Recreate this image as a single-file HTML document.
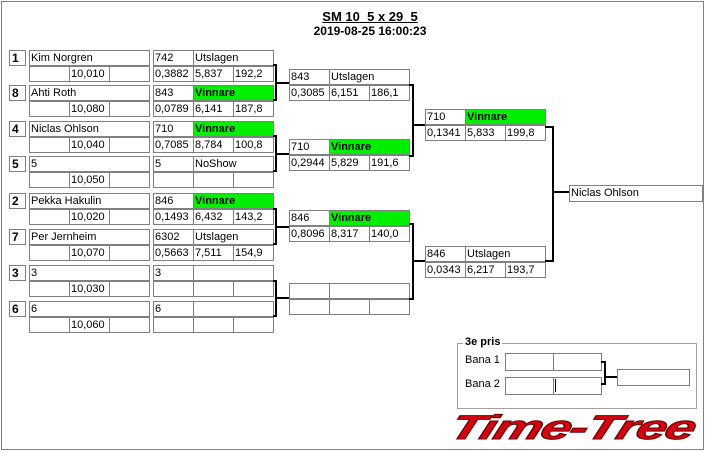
<!DOCTYPE html>
<html><head><meta charset="utf-8"><style>
body{margin:0;width:706px;height:452px;background:#fff;position:relative;overflow:hidden;font-family:"Liberation Sans",sans-serif}
.c{position:absolute;border:1px solid #808080;box-sizing:border-box;height:16px;font-size:11px;line-height:14px;padding-left:1px;white-space:nowrap;overflow:hidden;color:#000}
.s{font-weight:bold;font-size:12px;padding-left:2px}
.g{background:#00ee00;font-weight:bold}
.l{position:absolute;background:#000}
</style></head><body>
<div style="position:absolute;left:1px;top:1px;width:703px;height:449px;border:1px solid #808080;box-sizing:border-box"></div>
<div style="position:absolute;left:0;width:740px;top:10px;text-align:center;font-weight:bold;font-size:13px;line-height:14px;"><u>SM 10_5 x 29_5</u></div>
<div style="position:absolute;left:0;width:740px;top:24px;text-align:center;font-weight:bold;font-size:12px;line-height:14px;">2019-08-25 16:00:23</div>

<div class="c s" style="left:9px;top:50px;width:17px">1</div>
<div class="c" style="left:29px;top:50px;width:121px">Kim Norgren</div>
<div class="c" style="left:29px;top:66px;width:41px"></div><div class="c" style="left:69px;top:66px;width:41px">10,010</div><div class="c" style="left:109px;top:66px;width:41px"></div>
<div class="c" style="left:153px;top:50px;width:41px">742</div><div class="c" style="left:193px;top:50px;width:81px">Utslagen</div>
<div class="c" style="left:153px;top:66px;width:41px">0,3882</div><div class="c" style="left:193px;top:66px;width:41px">5,837</div><div class="c" style="left:233px;top:66px;width:41px">192,2</div>

<div class="c s" style="left:9px;top:85px;width:17px">8</div>
<div class="c" style="left:29px;top:85px;width:121px">Ahti Roth</div>
<div class="c" style="left:29px;top:101px;width:41px"></div><div class="c" style="left:69px;top:101px;width:41px">10,080</div><div class="c" style="left:109px;top:101px;width:41px"></div>
<div class="c" style="left:153px;top:85px;width:41px">843</div><div class="c g" style="left:193px;top:85px;width:81px">Vinnare</div>
<div class="c" style="left:153px;top:101px;width:41px">0,0789</div><div class="c" style="left:193px;top:101px;width:41px">6,141</div><div class="c" style="left:233px;top:101px;width:41px">187,8</div>

<div class="c s" style="left:9px;top:121px;width:17px">4</div>
<div class="c" style="left:29px;top:121px;width:121px">Niclas Ohlson</div>
<div class="c" style="left:29px;top:137px;width:41px"></div><div class="c" style="left:69px;top:137px;width:41px">10,040</div><div class="c" style="left:109px;top:137px;width:41px"></div>
<div class="c" style="left:153px;top:121px;width:41px">710</div><div class="c g" style="left:193px;top:121px;width:81px">Vinnare</div>
<div class="c" style="left:153px;top:137px;width:41px">0,7085</div><div class="c" style="left:193px;top:137px;width:41px">8,784</div><div class="c" style="left:233px;top:137px;width:41px">100,8</div>

<div class="c s" style="left:9px;top:156px;width:17px">5</div>
<div class="c" style="left:29px;top:156px;width:121px">5</div>
<div class="c" style="left:29px;top:172px;width:41px"></div><div class="c" style="left:69px;top:172px;width:41px">10,050</div><div class="c" style="left:109px;top:172px;width:41px"></div>
<div class="c" style="left:153px;top:156px;width:41px">5</div><div class="c" style="left:193px;top:156px;width:81px">NoShow</div>
<div class="c" style="left:153px;top:172px;width:41px"></div><div class="c" style="left:193px;top:172px;width:41px"></div><div class="c" style="left:233px;top:172px;width:41px"></div>

<div class="c s" style="left:9px;top:193px;width:17px">2</div>
<div class="c" style="left:29px;top:193px;width:121px">Pekka Hakulin</div>
<div class="c" style="left:29px;top:209px;width:41px"></div><div class="c" style="left:69px;top:209px;width:41px">10,020</div><div class="c" style="left:109px;top:209px;width:41px"></div>
<div class="c" style="left:153px;top:193px;width:41px">846</div><div class="c g" style="left:193px;top:193px;width:81px">Vinnare</div>
<div class="c" style="left:153px;top:209px;width:41px">0,1493</div><div class="c" style="left:193px;top:209px;width:41px">6,432</div><div class="c" style="left:233px;top:209px;width:41px">143,2</div>

<div class="c s" style="left:9px;top:229px;width:17px">7</div>
<div class="c" style="left:29px;top:229px;width:121px">Per Jernheim</div>
<div class="c" style="left:29px;top:245px;width:41px"></div><div class="c" style="left:69px;top:245px;width:41px">10,070</div><div class="c" style="left:109px;top:245px;width:41px"></div>
<div class="c" style="left:153px;top:229px;width:41px">6302</div><div class="c" style="left:193px;top:229px;width:81px">Utslagen</div>
<div class="c" style="left:153px;top:245px;width:41px">0,5663</div><div class="c" style="left:193px;top:245px;width:41px">7,511</div><div class="c" style="left:233px;top:245px;width:41px">154,9</div>

<div class="c s" style="left:9px;top:265px;width:17px">3</div>
<div class="c" style="left:29px;top:265px;width:121px">3</div>
<div class="c" style="left:29px;top:281px;width:41px"></div><div class="c" style="left:69px;top:281px;width:41px">10,030</div><div class="c" style="left:109px;top:281px;width:41px"></div>
<div class="c" style="left:153px;top:265px;width:41px">3</div><div class="c" style="left:193px;top:265px;width:81px"></div>
<div class="c" style="left:153px;top:281px;width:41px"></div><div class="c" style="left:193px;top:281px;width:41px"></div><div class="c" style="left:233px;top:281px;width:41px"></div>

<div class="c s" style="left:9px;top:301px;width:17px">6</div>
<div class="c" style="left:29px;top:301px;width:121px">6</div>
<div class="c" style="left:29px;top:317px;width:41px"></div><div class="c" style="left:69px;top:317px;width:41px">10,060</div><div class="c" style="left:109px;top:317px;width:41px"></div>
<div class="c" style="left:153px;top:301px;width:41px">6</div><div class="c" style="left:193px;top:301px;width:81px"></div>
<div class="c" style="left:153px;top:317px;width:41px"></div><div class="c" style="left:193px;top:317px;width:41px"></div><div class="c" style="left:233px;top:317px;width:41px"></div>

<div class="l" style="left:273px;top:64px;width:4px;height:2px"></div><div class="l" style="left:273px;top:99px;width:4px;height:2px"></div><div class="l" style="left:275px;top:64px;width:2px;height:37px"></div><div class="l" style="left:275px;top:82px;width:14px;height:2px"></div>
<div class="l" style="left:273px;top:135px;width:4px;height:2px"></div><div class="l" style="left:273px;top:170px;width:4px;height:2px"></div><div class="l" style="left:275px;top:135px;width:2px;height:37px"></div><div class="l" style="left:275px;top:153px;width:14px;height:2px"></div>
<div class="l" style="left:273px;top:208px;width:4px;height:2px"></div><div class="l" style="left:273px;top:243px;width:4px;height:2px"></div><div class="l" style="left:275px;top:208px;width:2px;height:37px"></div><div class="l" style="left:275px;top:226px;width:14px;height:2px"></div>
<div class="l" style="left:273px;top:280px;width:4px;height:2px"></div><div class="l" style="left:273px;top:315px;width:4px;height:2px"></div><div class="l" style="left:275px;top:280px;width:2px;height:37px"></div><div class="l" style="left:275px;top:297px;width:14px;height:2px"></div>

<div class="c" style="left:289px;top:69px;width:41px">843</div><div class="c" style="left:329px;top:69px;width:81px">Utslagen</div>
<div class="c" style="left:289px;top:85px;width:41px">0,3085</div><div class="c" style="left:329px;top:85px;width:41px">6,151</div><div class="c" style="left:369px;top:85px;width:41px">186,1</div>

<div class="c" style="left:289px;top:139px;width:41px">710</div><div class="c g" style="left:329px;top:139px;width:81px">Vinnare</div>
<div class="c" style="left:289px;top:155px;width:41px">0,2944</div><div class="c" style="left:329px;top:155px;width:41px">5,829</div><div class="c" style="left:369px;top:155px;width:41px">191,6</div>

<div class="c" style="left:289px;top:210px;width:41px">846</div><div class="c g" style="left:329px;top:210px;width:81px">Vinnare</div>
<div class="c" style="left:289px;top:226px;width:41px">0,8096</div><div class="c" style="left:329px;top:226px;width:41px">8,317</div><div class="c" style="left:369px;top:226px;width:41px">140,0</div>

<div class="c" style="left:289px;top:283px;width:41px"></div><div class="c" style="left:329px;top:283px;width:81px"></div>
<div class="c" style="left:289px;top:299px;width:41px"></div><div class="c" style="left:329px;top:299px;width:41px"></div><div class="c" style="left:369px;top:299px;width:41px"></div>

<div class="l" style="left:409px;top:84px;width:5px;height:2px"></div><div class="l" style="left:409px;top:155px;width:5px;height:2px"></div><div class="l" style="left:412px;top:84px;width:2px;height:73px"></div><div class="l" style="left:412px;top:124px;width:13px;height:2px"></div>
<div class="l" style="left:409px;top:223px;width:5px;height:2px"></div><div class="l" style="left:409px;top:298px;width:5px;height:2px"></div><div class="l" style="left:412px;top:223px;width:2px;height:77px"></div><div class="l" style="left:412px;top:260px;width:13px;height:2px"></div>

<div class="c" style="left:425px;top:109px;width:41px">710</div><div class="c g" style="left:465px;top:109px;width:81px">Vinnare</div>
<div class="c" style="left:425px;top:125px;width:41px">0,1341</div><div class="c" style="left:465px;top:125px;width:41px">5,833</div><div class="c" style="left:505px;top:125px;width:41px">199,8</div>

<div class="c" style="left:425px;top:246px;width:41px">846</div><div class="c" style="left:465px;top:246px;width:81px">Utslagen</div>
<div class="c" style="left:425px;top:262px;width:41px">0,0343</div><div class="c" style="left:465px;top:262px;width:41px">6,217</div><div class="c" style="left:505px;top:262px;width:41px">193,7</div>

<div class="l" style="left:545px;top:126px;width:9px;height:2px"></div><div class="l" style="left:545px;top:260px;width:9px;height:2px"></div><div class="l" style="left:552px;top:126px;width:2px;height:136px"></div><div class="l" style="left:552px;top:191px;width:17px;height:2px"></div>

<div class="c" style="left:569px;top:185px;width:134px;height:17px;line-height:15px">Niclas Ohlson</div>

<div style="position:absolute;left:457px;top:343px;width:240px;height:66px;border:1px solid #a0a0a0;box-sizing:border-box"></div>
<div style="position:absolute;left:463px;top:336px;background:#fff;padding:0 2px;font-weight:bold;font-size:11px;line-height:13px">3e pris</div>
<div style="position:absolute;left:465px;top:353px;font-size:11px;line-height:14px">Bana 1</div>
<div style="position:absolute;left:465px;top:377px;font-size:11px;line-height:14px">Bana 2</div>
<div class="c" style="left:505px;top:353px;width:49px;height:18px"></div><div class="c" style="left:553px;top:353px;width:49px;height:18px"></div>
<div class="c" style="left:505px;top:377px;width:49px;height:18px"></div><div class="c" style="left:553px;top:377px;width:49px;height:18px"></div>
<div class="l" style="left:555px;top:379px;width:1px;height:13px"></div>
<div class="l" style="left:601px;top:361px;width:5px;height:2px"></div><div class="l" style="left:601px;top:383px;width:5px;height:2px"></div><div class="l" style="left:604px;top:361px;width:2px;height:24px"></div><div class="l" style="left:604px;top:376px;width:13px;height:2px"></div>
<div class="c" style="left:617px;top:369px;width:73px;height:17px"></div>

<div style="position:absolute;left:457px;top:410px;width:240px;height:36px;overflow:visible">
<div style="position:absolute;left:0;top:0;font-family:'Liberation Sans',sans-serif;font-weight:bold;font-style:italic;font-size:34px;line-height:36px;color:#d80010;-webkit-text-stroke:1px #600;transform-origin:0 0;transform:scaleX(1.6) skewX(-12deg);letter-spacing:-1px">Time-Tree</div>
</div>
</body></html>
